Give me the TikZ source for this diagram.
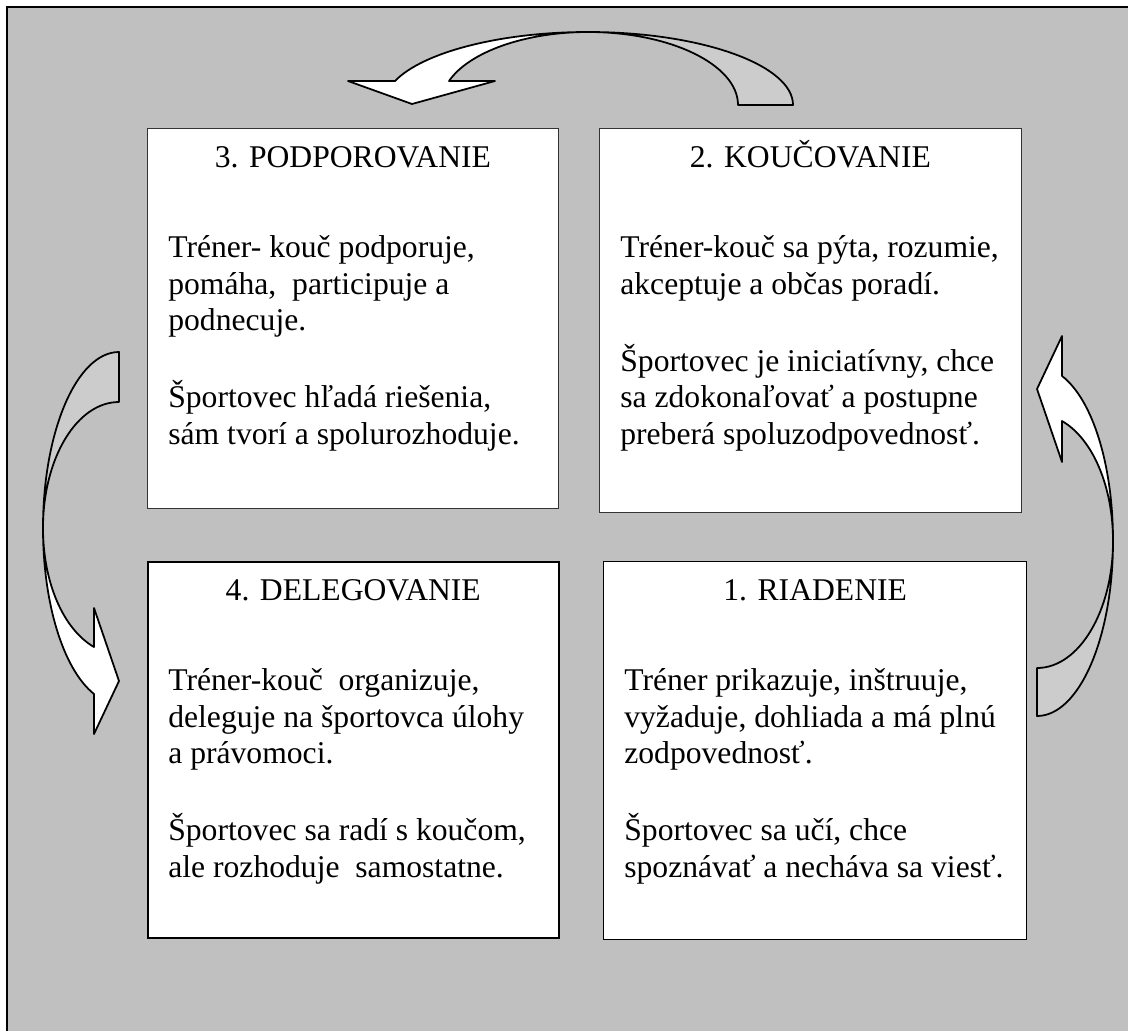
\documentclass[tikz,border=0pt]{standalone}
\usepackage{fontspec}
\setmainfont{Liberation Serif}
\usetikzlibrary{calc}

\definecolor{panelgray}{RGB}{192,192,192}
\definecolor{tailgray}{RGB}{204,204,204}

\tikzset{
  stage/.style={draw=black, line width=0.6pt, fill=white, anchor=north west, inner sep=0pt},
  stagetitle/.style={anchor=base, inner sep=0pt},
  stagetext/.style={anchor=north west, align=left, inner sep=0pt},
  blockarrow/.style={draw=black, line width=1pt, line join=round},
}

\begin{document}
\begin{tikzpicture}[x=0.02cm, y=-0.02cm, font=\fontsize{18}{20.9}\selectfont]
    \useasboundingbox (0,0) rectangle (1128,1031);
    \fill[white] (0,0) rectangle (1128,1031);
    \fill[panelgray] (7,7) rectangle (1128,1031);
    \draw[line width=1.4pt] (7,1031) -- (7,7) -- (1128,7);

    % the four stages
    \node[stage, draw=black!80, line width=0.5pt, minimum width=8.22cm, minimum height=7.6cm]  (s3) at (147,128) {};
    \node[stage, draw=black!80, line width=0.5pt, minimum width=8.44cm, minimum height=7.68cm] (s2) at (599,128) {};
    \node[stage, line width=0.9pt, minimum width=8.22cm, minimum height=7.52cm] (s4) at (147,561) {};
    \node[stage, line width=0.8pt, minimum width=8.46cm, minimum height=7.56cm] (s1) at (603,561) {};

    \node[stagetitle] (t3) at ($(s3.north)+(0,39)$) {3. PODPOROVANIE};
    \node[stagetitle] (t2) at ($(s2.north)+(0,39)$) {2. KOUČOVANIE};
    \node[stagetitle] (t4) at ($(s4.north)+(0,39)$) {4. DELEGOVANIE};
    \node[stagetitle] (t1) at ($(s1.north)+(0,39)$) {1. RIADENIE};

    \node[stagetext] (x3) at ($(s3.north west)+(21,107)$)
      {Tréner- kouč podporuje,\\ pomáha,\ \ participuje a\\ podnecuje.\\[23pt]
       Športovec hľadá riešenia,\\ sám tvorí a spolurozhoduje.};
    \node[stagetext] (x2) at ($(s2.north west)+(21,107)$)
      {Tréner-kouč sa pýta, rozumie,\\ akceptuje a občas poradí.\\[23pt]
       Športovec je iniciatívny, chce\\ sa zdokonaľovať a postupne\\ preberá spoluzodpovednosť.};
    \node[stagetext] (x4) at ($(s4.north west)+(21,107)$)
      {Tréner-kouč\ \ organizuje,\\ deleguje na športovca úlohy\\ a právomoci.\\[23pt]
       Športovec sa radí s koučom,\\ ale rozhoduje\ \ samostatne.};
    \node[stagetext] (x1) at ($(s1.north west)+(21,107)$)
      {Tréner prikazuje, inštruuje,\\ vyžaduje, dohliada a má plnú\\ zodpovednosť.\\[23pt]
       Športovec sa učí, chce\\ spoznávať a necháva sa viesť.};

    % curved arrows: shaded back part first, then the white front part
    \draw[blockarrow, fill=tailgray] (588,32) .. controls (701,32) and (793,65) .. (793,105)
      -- (738,105) .. controls (738,65) and (671,32) .. (588,32) -- cycle;
    \draw[blockarrow, fill=white] (588,32) .. controls (501,32) and (423,52) .. (395,81)
      -- (348,81) -- (412,104) -- (495,81) -- (449,81)
      .. controls (469,52) and (525,32) .. (588,32) -- cycle;

    \draw[blockarrow, fill=tailgray] (1113,541) .. controls (1113,638) and (1079,716) .. (1037,716)
      -- (1037,668) .. controls (1079,668) and (1113,611) .. (1113,541) -- cycle;
    \draw[blockarrow, fill=white] (1113,541) .. controls (1113,466) and (1093,400) .. (1062,376)
      -- (1062,336) -- (1037,389) -- (1062,462) -- (1062,421)
      .. controls (1093,439) and (1113,487) .. (1113,541) -- cycle;

    \draw[blockarrow, fill=tailgray] (43,528) .. controls (43,431) and (77,352) .. (119,352)
      -- (119,402) .. controls (77,402) and (43,458) .. (43,528) -- cycle;
    \draw[blockarrow, fill=white] (43,528) .. controls (43,603) and (63,669) .. (94,694)
      -- (94,734) -- (119,681) -- (94,608) -- (94,647)
      .. controls (63,629) and (43,582) .. (43,528) -- cycle;
\end{tikzpicture}
\end{document}
